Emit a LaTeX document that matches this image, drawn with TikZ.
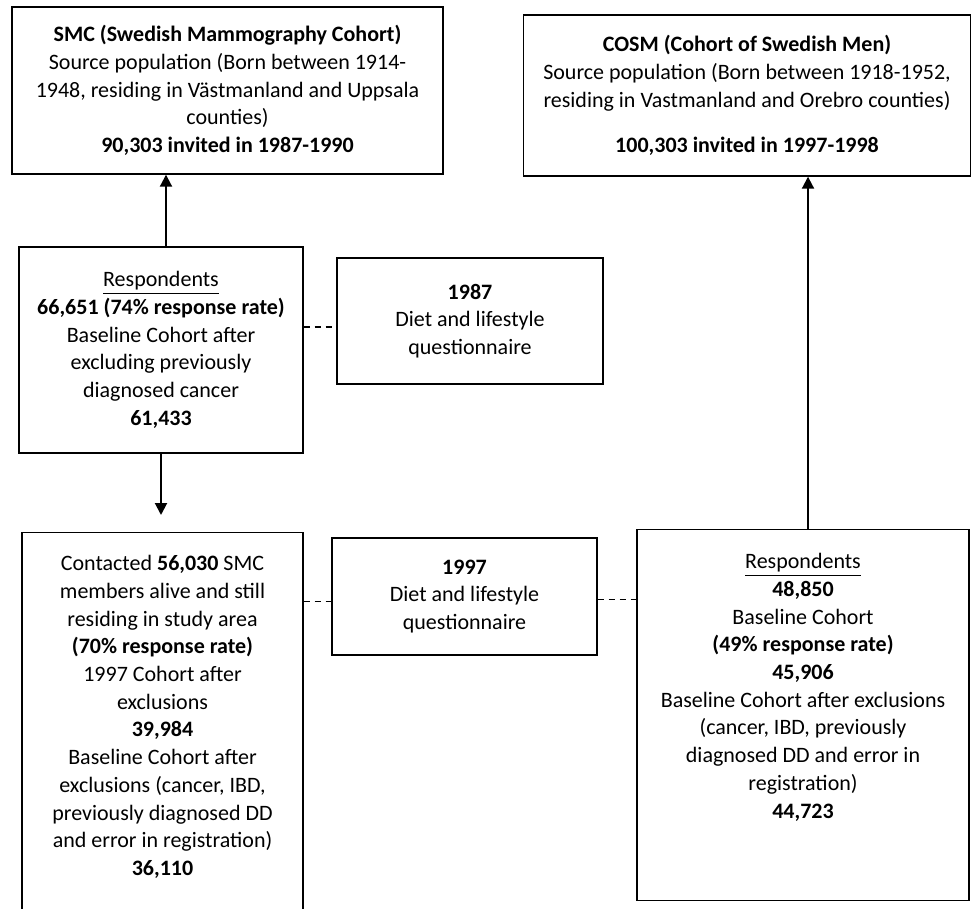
\documentclass[tikz,border=0pt]{standalone}
\usepackage{fontspec}
\setmainfont{Carlito}
\usepackage{tikz}
\usetikzlibrary{arrows.meta}
\tikzset{
    kasten/.style={
           rectangle,
           draw=black, line width=0.7pt,
           align=center,
           inner sep=0pt,
           font=\fontsize{11pt}{13.85pt}\selectfont},
    hochkasten/.style={
           kasten,
           anchor=north},
    pfeil/.style={
           black, line width=1pt},
    strich/.style={
           black, line width=0.8pt, dash pattern=on 3pt off 2.5pt}
    }

\begin{document}
\begin{tikzpicture}[x=0.5pt,y=-0.5pt,>={Triangle[width=6pt,length=6pt]}]
      \clip (0,0) rectangle (972,908);
      % obere Kaesten
      \node[kasten,minimum width=215.5pt,minimum height=83.5pt] (smc) at (227.5,90.5)
        {\textbf{SMC (Swedish Mammography Cohort)}\\Source population (Born between 1914-\\1948, residing in Västmanland and Uppsala\\counties)\\\textbf{90,303 invited in 1987-1990}};
      \node[kasten,minimum width=223.5pt,minimum height=80.5pt] (cosm) at (747,95.5)
        {\textbf{COSM (Cohort of Swedish Men)}\\Source population (Born between 1918-1952,\\residing in Vastmanland and Orebro counties)\\[8.7pt]\textbf{100,303 invited in 1997-1998}};
      % mitte
      \node[kasten,minimum width=142pt,minimum height=103pt] (resp1) at (161,350)
        {\underline{Respondents}\\\textbf{66,651 (74\% response rate)}\\Baseline Cohort after\\excluding previously\\diagnosed cancer\\\textbf{61,433}};
      \node[kasten,minimum width=133pt,minimum height=63pt] (q87) at (470,321)
        {\textbf{1987}\\Diet and lifestyle\\questionnaire};
      % untere Kaesten
      \node[hochkasten] (contact) at (162.5,532)
        {\begin{minipage}[t][199pt][t]{140.5pt}\centering
         \rule{0pt}{19pt}Contacted \textbf{56,030} SMC\\members alive and still\\residing in study area\\\textbf{(70\% response rate)}\\1997 Cohort after\\exclusions\\\textbf{39,984}\\Baseline Cohort after\\exclusions (cancer, IBD,\\previously diagnosed DD\\and error in registration)\\\textbf{36,110}
         \end{minipage}};
      \node[kasten,minimum width=132.5pt,minimum height=58.5pt] (q97) at (464.5,596.5)
        {\textbf{1997}\\Diet and lifestyle\\questionnaire};
      \node[hochkasten] (resp2) at (803,529)
        {\begin{minipage}[t][185.5pt][t]{166pt}\centering
         \rule{0pt}{19.5pt}\underline{Respondents}\\\textbf{48,850}\\Baseline Cohort\\\textbf{(49\% response rate)}\\\textbf{45,906}\\Baseline Cohort after exclusions\\(cancer, IBD, previously\\diagnosed DD and error in\\registration)\\\textbf{44,723}
         \end{minipage}};
      % Verbindungen
      \draw[->,pfeil] ([xshift=2.5pt]resp1.north) to ([xshift=2.5pt]resp1.north |- smc.south);
      \draw[->,pfeil,shorten >=8.5pt] (resp1.south) to (resp1.south |- contact.north);
      \draw[->,pfeil] ([xshift=2.5pt]resp2.north) to ([xshift=2.5pt]resp2.north |- cosm.south);
      \draw[-,strich] ([yshift=-3pt]q87.west -| resp1.east) to ([yshift=-3pt]q87.west);
      \draw[-,strich] ([yshift=-2.5pt]q97.west -| contact.east) to ([yshift=-2.5pt]q97.west);
      \draw[-,strich] ([yshift=-1.5pt]q97.east) to ([yshift=-1.5pt]q97.east -| resp2.west);
\end{tikzpicture}
\end{document}
